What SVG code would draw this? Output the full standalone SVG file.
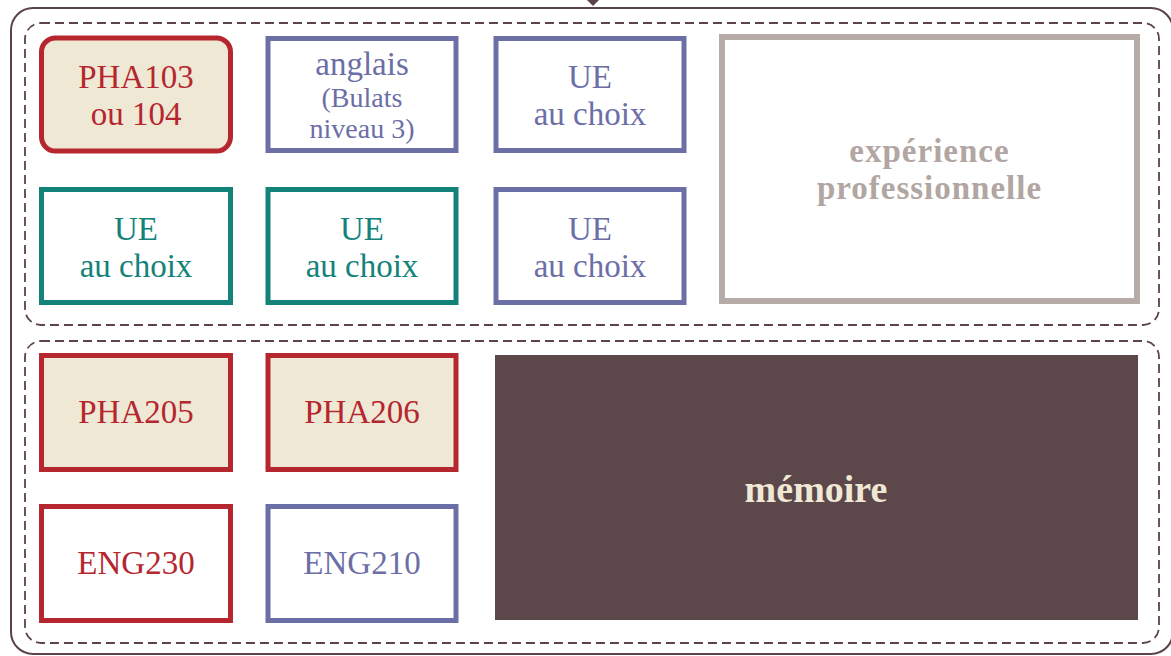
<svg xmlns="http://www.w3.org/2000/svg" width="1171" height="656" viewBox="0 0 1171 656">
  <style>
    .frame { fill: none; stroke: #5b4349; stroke-width: 2; }
    .group { fill: none; stroke: #5b4349; stroke-width: 1.8; stroke-dasharray: 9 5; }
    .box { stroke-width: 5; }
    .req { fill: #efe8d5; stroke: #b5262f; }
    .req-open { fill: #ffffff; stroke: #b5262f; }
    .eng { fill: #ffffff; stroke: #6c6ea6; }
    .opt { fill: #ffffff; stroke: #13837a; }
    .pro { fill: #ffffff; stroke: #b6aca7; stroke-width: 6; }
    .thesis { fill: #5c474b; stroke: none; }
    text { font-family: "Liberation Serif", "Times New Roman", serif; text-anchor: middle; }
    .t { font-size: 33px; }
    .s { font-size: 28px; }
    .b { font-weight: bold; }
    .c-red { fill: #b5262f; }
    .c-pur { fill: #6c6ea6; }
    .c-teal { fill: #13837a; }
    .c-gray { fill: #b1a6a1; }
    .c-cream { fill: #efe8d5; }
  </style>

  <rect width="1171" height="656" fill="#ffffff"/>

  <!-- outer frame and the two dashed semester groups -->
  <g id="frames">
    <rect class="frame" x="11" y="8" width="1162" height="646" rx="22"/>
    <polygon points="593,-6 599,0 593,6 587,0" fill="#5b4349"/>
    <rect id="group-s1" class="group" x="25" y="23" width="1134" height="302" rx="16"/>
    <rect id="group-s2" class="group" x="25" y="341" width="1134" height="302" rx="16"/>
  </g>

  <!-- connectors: none drawn between the course boxes -->
  <g id="connectors"></g>

  <g id="pha103">
    <rect class="box req" x="41.5" y="38" width="189" height="113" rx="14"/>
    <text class="t c-red" x="136" y="88">PHA103</text>
    <text class="t c-red" x="136" y="125">ou 104</text>
  </g>

  <g id="anglais">
    <rect class="box eng" x="268" y="38.5" width="188" height="112"/>
    <text class="t c-pur" x="362" y="75">anglais</text>
    <text class="s c-pur" x="362" y="107">(Bulats</text>
    <text class="s c-pur" x="362" y="138">niveau 3)</text>
  </g>

  <g id="ue-s1-a">
    <rect class="box eng" x="496" y="38.5" width="188" height="112"/>
    <text class="t c-pur" x="590" y="88">UE</text>
    <text class="t c-pur" x="590" y="125">au choix</text>
  </g>

  <g id="experience">
    <rect class="pro" x="722" y="37" width="415" height="264"/>
    <text class="b c-gray" x="929.5" y="162" font-size="33" letter-spacing="1">expérience</text>
    <text class="b c-gray" x="929.5" y="199" font-size="33" letter-spacing="1">professionnelle</text>
  </g>

  <g id="ue-s1-b">
    <rect class="box opt" x="41.5" y="189.5" width="189" height="113"/>
    <text class="t c-teal" x="136" y="240">UE</text>
    <text class="t c-teal" x="136" y="277">au choix</text>
  </g>

  <g id="ue-s1-c">
    <rect class="box opt" x="268" y="189.5" width="188" height="113"/>
    <text class="t c-teal" x="362" y="240">UE</text>
    <text class="t c-teal" x="362" y="277">au choix</text>
  </g>

  <g id="ue-s1-d">
    <rect class="box eng" x="496" y="189.5" width="188" height="113"/>
    <text class="t c-pur" x="590" y="240">UE</text>
    <text class="t c-pur" x="590" y="277">au choix</text>
  </g>

  <g id="pha205">
    <rect class="box req" x="41.5" y="355.5" width="189" height="114"/>
    <text class="t c-red" x="136" y="423">PHA205</text>
  </g>

  <g id="pha206">
    <rect class="box req" x="268" y="355.5" width="188" height="114"/>
    <text class="t c-red" x="362" y="423">PHA206</text>
  </g>

  <g id="eng230">
    <rect class="box req-open" x="41.5" y="506.5" width="189" height="114"/>
    <text class="t c-red" x="136" y="574">ENG230</text>
  </g>

  <g id="eng210">
    <rect class="box eng" x="268" y="506.5" width="188" height="114"/>
    <text class="t c-pur" x="362" y="574">ENG210</text>
  </g>

  <g id="memoire">
    <rect class="thesis" x="495" y="355" width="643" height="265"/>
    <text class="b c-cream" x="816" y="502" font-size="38">mémoire</text>
  </g>
</svg>
